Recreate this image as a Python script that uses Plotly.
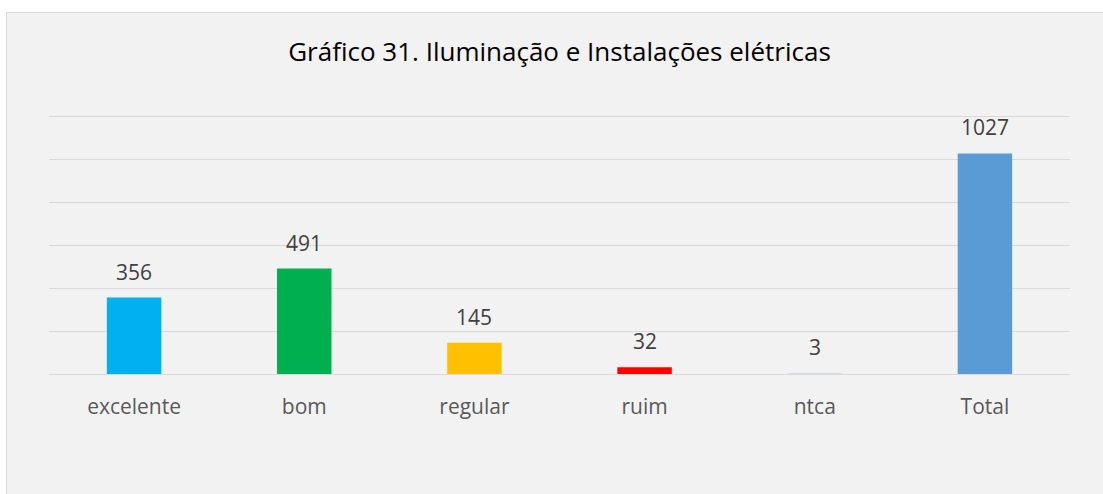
import plotly.graph_objects as go

categories = ["excelente", "bom", "regular", "ruim", "ntca", "Total"]
values = [356, 491, 145, 32, 3, 1027]
bar_colors = ["#00B0F0", "#00B050", "#FFC000", "#FF0000", "#D6DCE5", "#5B9BD5"]

W, H = 1103, 494
ml, mr, mt, mb = 49, 33, 113, 120
pw, ph = W - ml - mr, H - mt - mb
FONT = "Open Sans"

fig = go.Figure(
    go.Bar(
        x=categories,
        y=values,
        marker=dict(color=bar_colors, line=dict(width=0)),
        width=0.32,
        hoverinfo="x+y",
    )
)

# value labels above each bar
for cat, val in zip(categories, values):
    fig.add_annotation(
        x=cat, y=val, xref="x", yref="y",
        text=str(val), showarrow=False,
        yanchor="bottom", yshift=10,
        font=dict(family=FONT, size=21, color="#404040"),
    )

# grey chart frame extending past the right and bottom edges
fig.add_shape(
    type="rect", xref="paper", yref="paper", layer="below",
    x0=(6.5 - ml) / pw, x1=(W + 20 - ml) / pw,
    y0=(H - mb - (H + 20)) / ph, y1=(H - mb - 12.5) / ph,
    fillcolor="#F2F2F2", line=dict(color="#D9D9D9", width=1),
)

fig.update_layout(
    width=W, height=H,
    margin=dict(l=ml, r=mr, t=mt, b=mb),
    paper_bgcolor="white",
    plot_bgcolor="rgba(0,0,0,0)",
    showlegend=False,
    title=dict(
        text="Gráfico 31. Iluminação e Instalações elétricas",
        x=559.5 / W, xanchor="center",
        y=1 - 52 / H, yanchor="middle",
        font=dict(family=FONT, size=26, color="#000000"),
    ),
    xaxis=dict(
        showgrid=False, showline=False, ticks="outside", ticklen=14,
        tickcolor="rgba(0,0,0,0)",
        tickfont=dict(family=FONT, size=21, color="#595959"),
    ),
    yaxis=dict(
        range=[0, 1215], tickvals=[0, 200, 400, 600, 800, 1000, 1200],
        showticklabels=False,
        showgrid=True, gridcolor="#D9D9D9", gridwidth=1,
        zeroline=True, zerolinecolor="#D9D9D9", zerolinewidth=1,
    ),
)

fig.write_html("out.html")
